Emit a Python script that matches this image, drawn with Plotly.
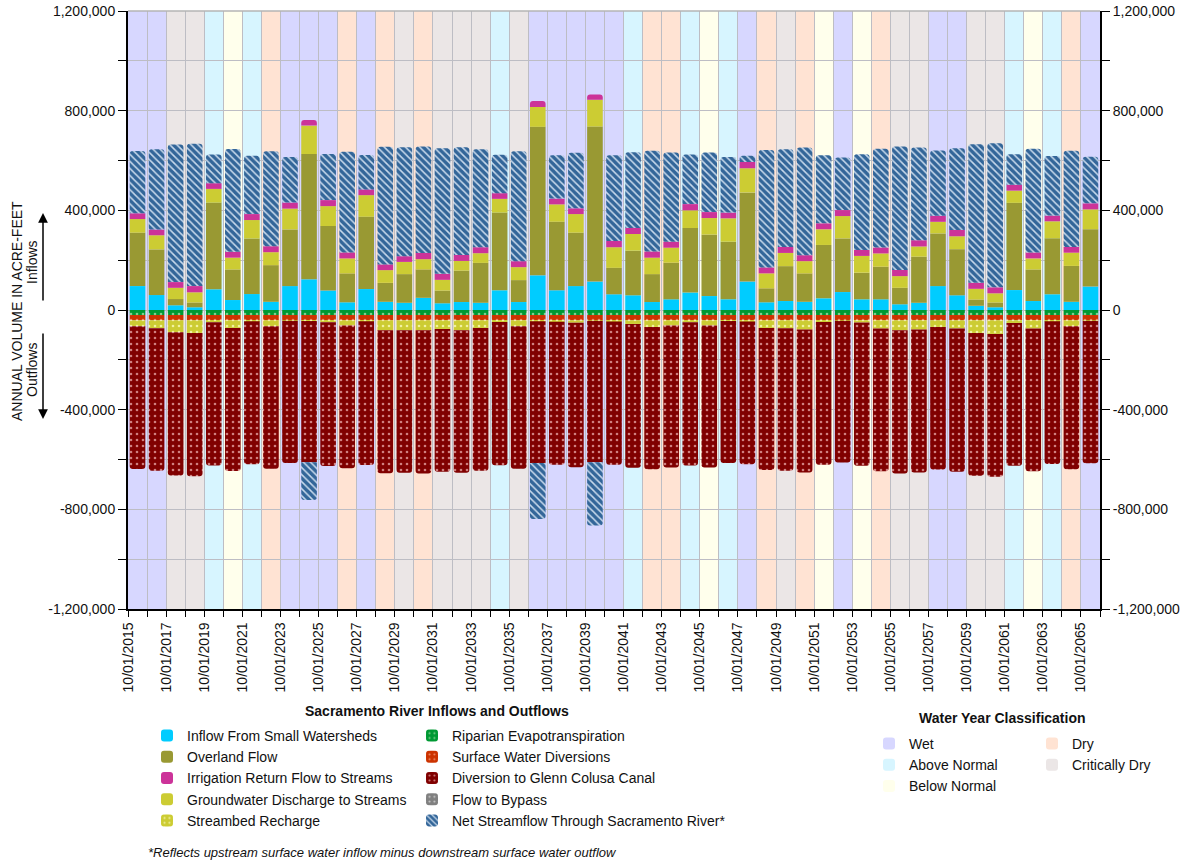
import plotly.graph_objects as go

# ---------------- data (acre-feet) ----------------
years = list(range(2015, 2066))
wy_class = ["W", "W", "CD", "CD", "AN", "BN", "AN", "D", "W", "W", "W", "D", "W", "D", "CD",
            "D", "CD", "CD", "CD", "AN", "CD", "W", "W", "W", "W", "W", "AN", "D", "D", "AN",
            "BN", "AN", "W", "D", "CD", "D", "BN", "W", "BN", "D", "CD", "CD", "W", "W", "CD",
            "CD", "AN", "BN", "AN", "D", "W"]

small_watersheds = [96000, 60000, 19000, 11000, 83000, 40000, 64000, 33000, 96000, 123000,
                    78000, 31000, 84000, 33000, 29000, 49000, 27000, 32000, 29000, 79000,
                    32000, 139000, 79000, 96000, 114000, 63000, 59000, 32000, 43000, 70000,
                    56000, 43000, 114000, 31000, 36000, 33000, 47000, 72000, 43000, 43000,
                    23000, 29000, 96000, 59000, 17000, 11000, 80000, 36000, 63000, 33000, 94000]
overland_flow = [214000, 183000, 25000, 19000, 348000, 123000, 223000, 147000, 227000, 503000,
                 259000, 116000, 290000, 76000, 115000, 114000, 51000, 126000, 160000, 312000,
                 88000, 596000, 275000, 214000, 622000, 106000, 179000, 112000, 147000, 259000,
                 247000, 231000, 357000, 56000, 140000, 114000, 214000, 215000, 107000, 131000,
                 66000, 185000, 211000, 185000, 25000, 19000, 350000, 127000, 225000, 144000, 230000]
gw_discharge = [55000, 57000, 45000, 41000, 55000, 47000, 74000, 52000, 84000, 114000,
                80000, 60000, 87000, 51000, 49000, 41000, 43000, 39000, 39000, 55000,
                52000, 80000, 70000, 75000, 108000, 83000, 67000, 66000, 60000, 71000,
                66000, 94000, 98000, 60000, 53000, 49000, 63000, 90000, 67000, 53000,
                47000, 41000, 47000, 52000, 43000, 37000, 49000, 44000, 68000, 53000, 80000]
irrigation_return = [23000, 23000, 23000, 25000, 23000, 24000, 24000, 24000, 24000, 23000,
                     24000, 24000, 23000, 23000, 23000, 25000, 24000, 24000, 24000, 23000,
                     24000, 24000, 23000, 23000, 21000, 25000, 24000, 25000, 24000, 25000,
                     24000, 23000, 25000, 24000, 24000, 24000, 24000, 24000, 24000, 24000,
                     25000, 25000, 24000, 25000, 24000, 24000, 24000, 24000, 23000, 23000, 24000]
riparian_et = [-20000, -20000, -20000, -20000, -20000, -20000, -20000, -20000, -20000, -20000,
               -20000, -20000, -20000, -20000, -20000, -20000, -20000, -20000, -20000, -20000,
               -20000, -20000, -20000, -20000, -20000, -20000, -20000, -20000, -20000, -20000,
               -20000, -20000, -20000, -20000, -20000, -20000, -20000, -20000, -20000, -20000,
               -20000, -20000, -20000, -20000, -20000, -20000, -20000, -20000, -20000, -20000,
               -20000]
surface_diversions = [-21000, -21000, -21000, -21000, -21000, -21000, -21000, -21000, -21000,
                      -21000, -21000, -21000, -21000, -21000, -21000, -21000, -21000, -21000,
                      -21000, -21000, -21000, -21000, -21000, -21000, -21000, -21000, -21000,
                      -21000, -21000, -21000, -21000, -21000, -21000, -21000, -21000, -21000,
                      -21000, -21000, -21000, -21000, -21000, -21000, -21000, -21000, -21000,
                      -21000, -21000, -21000, -21000, -21000, -21000]
streambed_recharge = [-24000, -32000, -48000, -51000, -8000, -31000, -4000, -24000, -2000, -3000,
                      -8000, -21000, -4000, -40000, -40000, -40000, -35000, -40000, -31000, -7000,
                      -24000, -4000, -6000, -10000, -2000, -5000, -15000, -27000, -21000, -8000,
                      -21000, -3000, -5000, -31000, -32000, -37000, -7000, -2000, -9000, -33000,
                      -40000, -37000, -27000, -33000, -51000, -55000, -11000, -33000, -4000,
                      -24000, -2000]
glenn_colusa = [-573000, -572000, -575000, -575000, -575000, -574000, -574000, -572000, -571000,
                -567000, -577000, -573000, -577000, -574000, -572000, -575000, -573000, -572000,
                -573000, -575000, -572000, -569000, -574000, -580000, -568000, -575000, -577000,
                -571000, -570000, -575000, -570000, -570000, -573000, -570000, -572000, -574000,
                -573000, -569000, -575000, -573000, -575000, -574000, -572000, -575000, -573000,
                -573000, -573000, -573000, -573000, -574000, -572000]
flow_to_bypass = [0] * 51
net_streamflow = [250000, 322000, 552000, 571000, 115000, 412000, 234000, 381000, 183000, -152000,
                  185000, 404000, 138000, 472000, 437000, 427000, 504000, 432000, 393000, 154000,
                  441000, -225000, 174000, 223000, -254000, 344000, 304000, 404000, 358000, 199000,
                  239000, 223000, 25000, 471000, 392000, 432000, 273000, 211000, 384000, 396000,
                  495000, 372000, 262000, 328000, 556000, 578000, 122000, 416000, 239000, 386000,
                  187000]

y_tick_vals = [-1200000, -800000, -400000, 0, 400000, 800000, 1200000]

wy_names = {"W": "Wet", "AN": "Above Normal", "BN": "Below Normal", "D": "Dry", "CD": "Critically Dry"}
wy_colors = {"W": "#D7D7FF", "AN": "#D7F5FF", "BN": "#FFFFEC", "D": "#FFE3D3", "CD": "#EBE6E6"}

# ---------------- geometry (screen pixels) ----------------
FONT = "Arial, Liberation Sans, sans-serif"
W, H = 1188, 864
PL, PR, PT, PB = 128, 1100, 11, 609          # plot area in screen pixels
L, R, T, B = PL, W - PR, PT, H - PB


def px(xp):
    return (xp - PL) / (PR - PL)


def py(yp):
    return (PB - yp) / (PB - PT)


x_pos = [i + 0.5 for i in range(len(years))]

fig = go.Figure()


def add_flow(values, name, color, legend, rank, pattern=None, fg=None, shape=".", size=6, solidity=0.15):
    marker = dict(color=color, line=dict(width=0))
    if pattern:
        marker["pattern"] = dict(shape=shape, fgcolor=fg, bgcolor=color, size=size,
                                 solidity=solidity, fillmode="replace")
    fig.add_trace(go.Bar(x=x_pos, y=values, name=name, marker=marker, legend=legend,
                         legendrank=rank, hoverinfo="name+y"))


add_flow(small_watersheds, "Inflow From Small Watersheds", "#00CCFF", "legend", 1)
add_flow(overland_flow, "Overland Flow", "#999933", "legend", 2)
add_flow(gw_discharge, "Groundwater Discharge to Streams", "#CCCC33", "legend", 4)
add_flow(irrigation_return, "Irrigation Return Flow to Streams", "#CC3399", "legend", 3)
add_flow(riparian_et, "Riparian Evapotranspiration", "#009933", "legend2", 1, True, "#7FD08F")
add_flow(surface_diversions, "Surface Water Diversions", "#CC3300", "legend2", 2, True, "#F08A66")
add_flow(streambed_recharge, "Streambed Recharge", "#CCCC33", "legend", 5, True, "#F2F2A0")
add_flow(glenn_colusa, "Diversion to Glenn Colusa Canal", "#800000", "legend2", 3, True, "#D08080")
add_flow(flow_to_bypass, "Flow to Bypass", "#808080", "legend2", 4, True, "#C8C8C8")
add_flow(net_streamflow, "Net Streamflow Through Sacramento River*", "#336699", "legend2", 5,
         True, "#C9DAEC", shape="\\", size=5, solidity=0.3)

# water-year legend entries
for key, leg, rank in [("W", "legend3", 1), ("AN", "legend3", 2), ("BN", "legend3", 3),
                       ("D", "legend4", 1), ("CD", "legend4", 2)]:
    fig.add_trace(go.Bar(x=[None], y=[None], name=wy_names[key],
                         marker=dict(color=wy_colors[key], line=dict(width=0)),
                         legend=leg, legendrank=rank, hoverinfo="skip"))

# right axis companion
fig.add_trace(go.Scatter(x=[None], y=[None], yaxis="y2", showlegend=False, hoverinfo="skip"))

# background water-year columns
shapes = []
for i, c in enumerate(wy_class):
    shapes.append(dict(type="rect", xref="x", yref="paper", x0=i, x1=i + 1, y0=0, y1=1,
                       fillcolor=wy_colors[c], line=dict(width=0), layer="below"))
shapes.append(dict(type="line", xref="paper", yref="paper", x0=0, x1=1, y0=1, y1=1,
                   line=dict(color="#B5B5B5", width=1.5), layer="above"))

tick_font = dict(family=FONT, size=14, color="#111111")
ytext = [f"{v:,}" for v in y_tick_vals]

xtickvals = list(range(len(years) + 1))
xticktext = [f"10/01/{years[0] + i}" if (i % 2 == 0 and i < len(years)) else "" for i in xtickvals]

grid_col = "#BDBDC4"

leg_common = dict(orientation="v", xanchor="left", yanchor="top", bgcolor="rgba(0,0,0,0)",
                  font=dict(family=FONT, size=14, color="#111111"), traceorder="normal",
                  itemclick=False, itemdoubleclick=False, tracegroupgap=0)

fig.update_layout(
    width=W, height=H,
    margin=dict(l=L, r=R, t=T, b=B, autoexpand=False),
    paper_bgcolor="white", plot_bgcolor="white",
    barmode="relative", bargap=0.18, barcornerradius=3,
    shapes=shapes,
    xaxis=dict(range=[0, len(years)], tickmode="array", tickvals=xtickvals, ticktext=xticktext,
               tickangle=-90, ticks="outside", ticklen=6, tickcolor="black", tickwidth=1,
               showline=True, linecolor="black", linewidth=1.5, showgrid=True,
               gridcolor=grid_col, gridwidth=1, zeroline=False, tickfont=tick_font,
               fixedrange=True),
    yaxis=dict(range=[-1200000, 1200000], tickmode="array", tickvals=y_tick_vals, ticktext=ytext,
               ticks="outside", ticklen=8, tickcolor="black", showline=True, linecolor="black",
               linewidth=2, showgrid=True, gridcolor=grid_col, gridwidth=1, zeroline=False,
               tickfont=tick_font, fixedrange=True, ticklabeloverflow="allow",
               minor=dict(tickmode="linear", tick0=0, dtick=200000, ticks="outside", ticklen=8,
                          tickcolor="black", showgrid=True, gridcolor=grid_col, gridwidth=1)),
    yaxis2=dict(range=[-1200000, 1200000], overlaying="y", side="right", tickmode="array",
                tickvals=y_tick_vals, ticktext=ytext, ticks="outside", ticklen=8, tickcolor="black",
                showline=True, linecolor="black", linewidth=2, showgrid=False, zeroline=False,
                tickfont=tick_font, fixedrange=True, ticklabeloverflow="allow",
                minor=dict(tickmode="linear", tick0=0, dtick=200000, ticks="outside", ticklen=8,
                           tickcolor="black", showgrid=False)),
    legend=dict(leg_common, x=px(147), y=py(720)),
    legend2=dict(leg_common, x=px(412), y=py(720)),
    legend3=dict(leg_common, x=px(869), y=py(728)),
    legend4=dict(leg_common, x=px(1032), y=py(728)),
    showlegend=True,
)

ann = []
lab_font = dict(family=FONT, size=14, color="#111111")
ann.append(dict(text="ANNUAL VOLUME IN ACRE-FEET", xref="paper", yref="paper", x=px(17), y=py(311),
                showarrow=False, textangle=-90, font=lab_font, xanchor="center", yanchor="middle"))
ann.append(dict(text="Inflows", xref="paper", yref="paper", x=px(32), y=py(262),
                showarrow=False, textangle=-90, font=lab_font, xanchor="center", yanchor="middle"))
ann.append(dict(text="Outflows", xref="paper", yref="paper", x=px(32), y=py(370),
                showarrow=False, textangle=-90, font=lab_font, xanchor="center", yanchor="middle"))
ann.append(dict(text="", xref="paper", yref="paper", x=px(43), y=py(213), ax=0, ay=89,
                showarrow=True, arrowhead=2, arrowsize=1.3, arrowwidth=1.5, arrowcolor="black"))
ann.append(dict(text="", xref="paper", yref="paper", x=px(43), y=py(419), ax=0, ay=-87,
                showarrow=True, arrowhead=2, arrowsize=1.3, arrowwidth=1.5, arrowcolor="black"))
ann.append(dict(text="<b>Sacramento River Inflows and Outflows</b>", xref="paper", yref="paper",
                x=px(437), y=py(711), showarrow=False, font=dict(family=FONT, size=14, color="#111111"),
                xanchor="center", yanchor="middle"))
ann.append(dict(text="<b>Water Year Classification</b>", xref="paper", yref="paper",
                x=px(1002), y=py(718), showarrow=False, font=dict(family=FONT, size=14, color="#111111"),
                xanchor="center", yanchor="middle"))
ann.append(dict(text="<i>*Reflects upstream surface water inflow minus downstream surface water outflow</i>",
                xref="paper", yref="paper", x=px(146), y=py(852), showarrow=False,
                font=dict(family=FONT, size=13, color="#111111"), xanchor="left", yanchor="middle"))
fig.update_layout(annotations=ann)

fig.write_html("out.html", config={"displayModeBar": False},
               post_script="document.body.style.margin='0px';")
